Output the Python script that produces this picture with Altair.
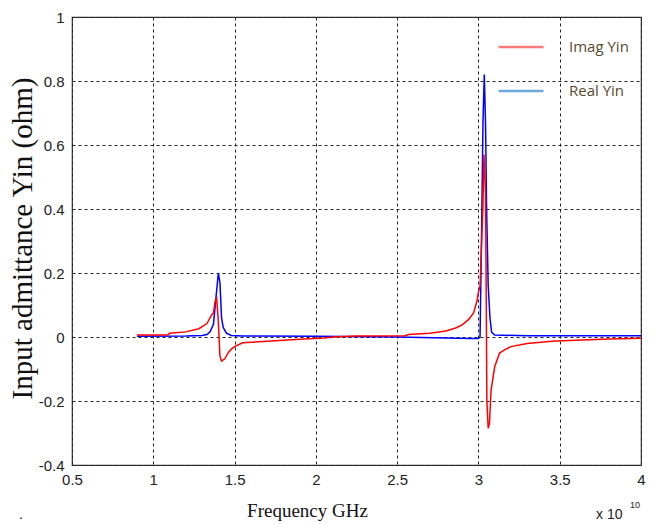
import altair as alt
import pandas as pd

# Frequency sweep in units of 1e10 Hz
imag_freq = [0.90, 1.09, 1.10, 1.20, 1.28, 1.33, 1.36, 1.37, 1.38, 1.39,
             1.40, 1.41, 1.42, 1.44, 1.46, 1.48, 1.50, 1.55, 1.65, 1.75,
             1.90, 2.05, 2.10, 2.25, 2.55, 2.57, 2.70, 2.80, 2.86, 2.90,
             2.94, 2.97, 2.99, 3.00, 3.01, 3.02, 3.028, 3.034, 3.044, 3.052,
             3.06, 3.068, 3.078, 3.10, 3.13, 3.16, 3.20, 3.30, 3.45, 3.60,
             3.80, 4.00]
imag_vals = [0.006, 0.006, 0.012, 0.016, 0.026, 0.042, 0.07, 0.075, 0.11, 0.12,
             0.05, -0.06, -0.075, -0.068, -0.05, -0.038, -0.03, -0.018, -0.015, -0.012,
             -0.007, -0.003, 0.0, 0.003, 0.004, 0.008, 0.012, 0.019, 0.028, 0.038,
             0.055, 0.075, 0.11, 0.14, 0.16, 0.30, 0.42, 0.57, 0.45, -0.20,
             -0.285, -0.27, -0.165, -0.093, -0.05, -0.04, -0.03, -0.02, -0.013, -0.01,
             -0.006, -0.004]

real_freq = [0.90, 1.20, 1.30, 1.33, 1.35, 1.37, 1.385, 1.40, 1.41, 1.42,
             1.43, 1.45, 1.48, 1.55, 2.00, 2.50, 2.80, 2.95, 3.00, 3.01,
             3.02, 3.028, 3.036, 3.044, 3.05, 3.06, 3.071, 3.081, 3.10, 3.30,
             4.00]
real_vals = [0.002, 0.003, 0.005, 0.008, 0.017, 0.04, 0.12, 0.20, 0.17, 0.06,
             0.03, 0.012, 0.005, 0.003, 0.002, 0.0, -0.003, -0.005, -0.005, 0.0,
             0.35, 0.67, 0.82, 0.66, 0.41, 0.16, 0.06, 0.015, 0.006, 0.004,
             0.004]

series_names = ["Imag Yin", "Real Yin"]
line_colors = ["#ff0000", "#0000ff"]
legend_colors = ["#ff7b7b", "#6fa8dc"]

x_ticks = [0.5, 1, 1.5, 2, 2.5, 3, 3.5, 4]
y_ticks = [-0.4, -0.2, 0, 0.2, 0.4, 0.6, 0.8, 1]

df = pd.concat([
    pd.DataFrame({"freq": imag_freq, "value": imag_vals, "series": series_names[0]}),
    pd.DataFrame({"freq": real_freq, "value": real_vals, "series": series_names[1]}),
])

# plain hyphen for negative tick labels
tick_label = "replace(format(datum.value, '~g'), '\u2212', '-')"

x_enc = alt.X(
    "freq:Q",
    scale=alt.Scale(domain=[0.5, 4], nice=False, zero=False),
    axis=alt.Axis(
        values=x_ticks, labelExpr=tick_label, title="Frequency GHz",
        titleFont="Liberation Serif", titleFontSize=19, titleFontWeight="normal",
        titleColor="#111", titleX=235, titleY=45, titleBaseline="middle",
        labelFont="Liberation Sans", labelFontSize=15, labelColor="#222",
        labelPadding=7, tickSize=0, domain=False,
        grid=True, gridDash=[3, 3], gridColor="#222", gridOpacity=1,
        labelFlush=False,
    ),
)
y_enc = alt.Y(
    "value:Q",
    scale=alt.Scale(domain=[-0.4, 1], nice=False, zero=False),
    axis=alt.Axis(
        values=y_ticks, labelExpr=tick_label, title="Input admittance  Yin (ohm)",
        titleFont="Liberation Serif", titleFontSize=29, titleFontWeight="normal",
        titleColor="#111", titleX=-50, titleY=221, titleBaseline="middle",
        labelFont="Liberation Sans", labelFontSize=15, labelColor="#222",
        labelPadding=8, tickSize=0, domain=False,
        grid=True, gridDash=[3, 3], gridColor="#222", gridOpacity=1,
        labelFlush=False,
    ),
)

stroke_enc = alt.Stroke(
    "series:N",
    scale=alt.Scale(domain=series_names, range=line_colors),
    legend=None,
)

base = alt.Chart(df).mark_line(strokeWidth=1.5, clip=True).encode(
    x=x_enc, y=y_enc, stroke=stroke_enc
)
real_line = base.transform_filter(alt.datum.series == series_names[1])
imag_line = base.transform_filter(alt.datum.series == series_names[0])

# legend carrier: one point per series, so the line itself draws nothing
key_df = pd.DataFrame({
    "series": series_names,
    "freq": [imag_freq[0], real_freq[0]],
    "value": [imag_vals[0], real_vals[0]],
})
legend_layer = alt.Chart(key_df).mark_line(strokeWidth=2.5).encode(
    x="freq:Q",
    y="value:Q",
    color=alt.Color(
        "series:N",
        scale=alt.Scale(domain=series_names, range=legend_colors),
        legend=alt.Legend(
            title=None, orient="none", legendX=425, legendY=6,
            symbolType="stroke", symbolSize=2025, symbolStrokeWidth=2.5,
            labelFont="Open Sans", labelFontSize=15, labelColor="#5a4a30",
            labelOffset=24, rowPadding=12, padding=0,
        ),
    ),
)

# exponent note under the right end of the frequency axis
exp_base = alt.Chart(pd.DataFrame({"t": ["x 10"]})).mark_text(
    font="Liberation Sans", fontSize=14, color="#222", align="left", baseline="alphabetic"
).encode(text="t:N", x=alt.value(524), y=alt.value(502))
exp_power = alt.Chart(pd.DataFrame({"t": ["10"]})).mark_text(
    font="Liberation Sans", fontSize=9, color="#222", align="left", baseline="alphabetic"
).encode(text="t:N", x=alt.value(558), y=alt.value(491))
dot = alt.Chart(pd.DataFrame({"t": ["."]})).mark_text(
    font="Liberation Sans", fontSize=14, color="#111", align="left", baseline="alphabetic"
).encode(text="t:N", x=alt.value(-53), y=alt.value(502))

chart = alt.layer(real_line, imag_line, legend_layer, exp_base, exp_power, dot).resolve_scale(
    color="independent", stroke="independent"
).properties(
    width=569, height=448,
    autosize=alt.AutoSizeParams(type="none"),
    padding={"left": 72, "top": 17, "right": 13, "bottom": 59},
    background="white",
).configure_view(stroke="#333", strokeWidth=1.2)

chart.save("out.html", embed_options={"renderer": "svg", "actions": False})
